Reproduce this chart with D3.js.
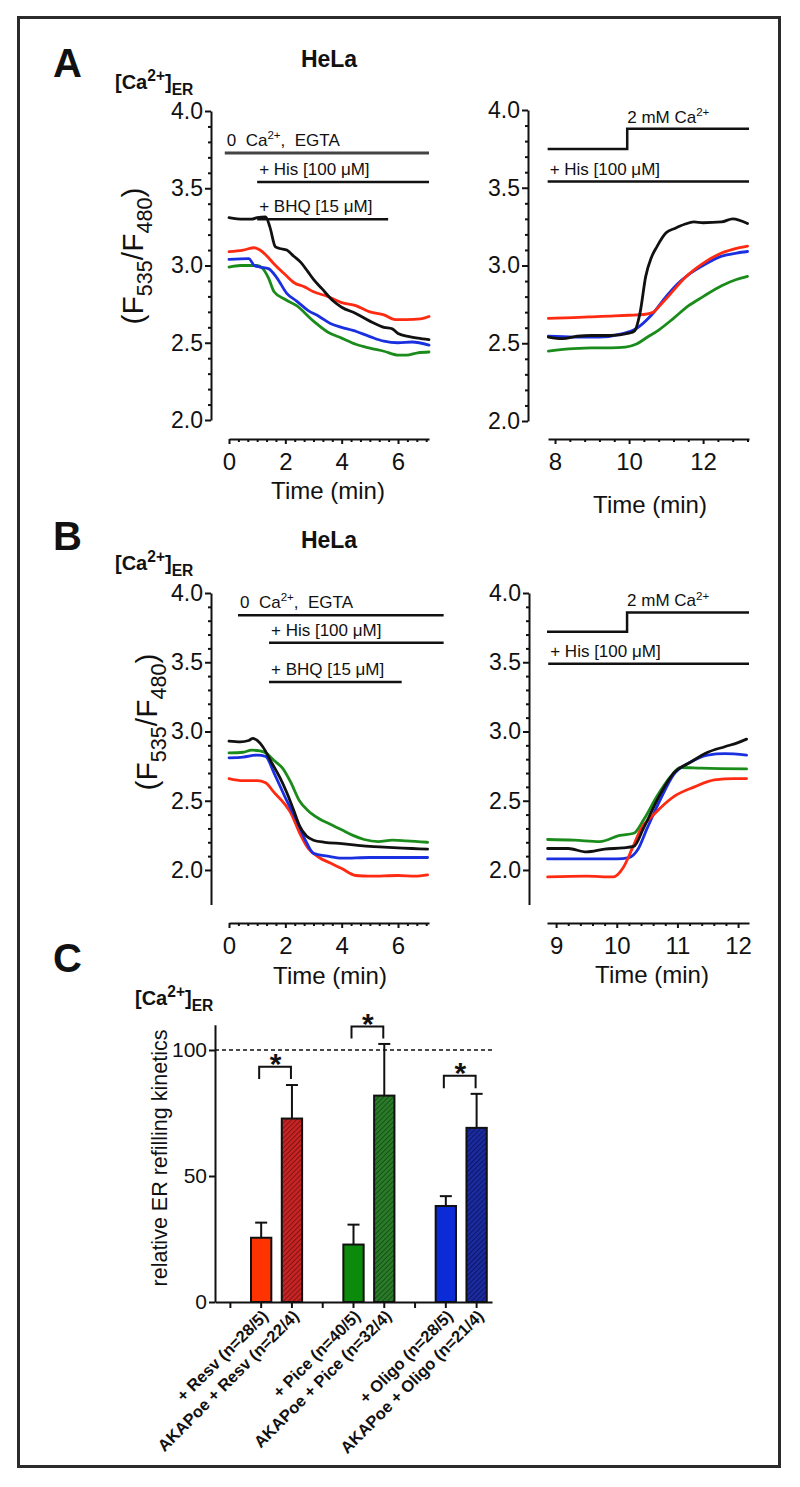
<!DOCTYPE html>
<html>
<head>
<meta charset="utf-8">
<script src="https://cdn.jsdelivr.net/npm/d3@7"></script>
<style>
  body { margin: 0; background: #fff; }
  svg { display: block; }
  text { font-family: "Liberation Sans", Arial, Helvetica, sans-serif; fill: #111; }
</style>
</head>
<body>
<svg width="800" height="1487"></svg>
<script>
// ---- data ----
// panel A, left: time (min), ratio
const aLeftBlack = [[0,3.31],[0.5,3.30],[0.8,3.30],[1.0,3.31],[1.3,3.315],[1.45,3.25],[1.65,3.12],[1.8,3.11],[2.05,3.10],[2.3,3.06],[2.55,3.02],[2.8,2.96],[3.0,2.91],[3.3,2.85],[3.7,2.77],[4.0,2.73],[4.5,2.69],[5.0,2.64],[5.5,2.60],[5.8,2.59],[6.0,2.56],[6.4,2.54],[6.7,2.53],[7.1,2.52]];
const aLeftRed = [[0,3.09],[0.5,3.10],[0.9,3.115],[1.1,3.10],[1.3,3.07],[1.6,3.01],[2.0,2.94],[2.3,2.89],[2.7,2.86],[3.0,2.83],[3.5,2.80],[4.0,2.76],[4.5,2.74],[5.0,2.70],[5.5,2.68],[5.9,2.65],[6.3,2.65],[6.8,2.655],[7.1,2.67]];
const aLeftBlue = [[0,3.04],[0.7,3.045],[0.9,3.0],[1.1,2.99],[1.4,2.98],[1.7,2.92],[2.05,2.82],[2.4,2.77],[2.8,2.71],[3.2,2.67],[3.6,2.625],[4.0,2.60],[4.4,2.58],[5.0,2.54],[5.5,2.51],[6.0,2.50],[6.5,2.505],[7.1,2.485]];
const aLeftGreen = [[0,2.99],[0.4,3.0],[1.0,3.0],[1.2,2.98],[1.4,2.92],[1.6,2.83],[2.0,2.78],[2.4,2.74],[3.0,2.64],[3.5,2.57],[4.0,2.53],[4.5,2.49],[5.0,2.465],[5.5,2.445],[6.0,2.42],[6.3,2.42],[6.7,2.435],[7.1,2.44]];

// panel A, right
const aRightBlack = [[7.82,2.54],[8.2,2.53],[8.6,2.545],[9.0,2.55],[9.5,2.55],[10.0,2.565],[10.15,2.58],[10.3,2.70],[10.45,2.93],[10.6,3.05],[10.75,3.12],[11.0,3.21],[11.25,3.24],[11.5,3.265],[11.75,3.28],[12.0,3.275],[12.5,3.28],[12.8,3.30],[13.2,3.27]];
const aRightRed = [[7.82,2.66],[8.5,2.665],[9.0,2.67],[9.5,2.675],[10.0,2.68],[10.4,2.685],[10.65,2.70],[10.9,2.76],[11.2,2.84],[11.5,2.92],[11.8,2.98],[12.1,3.03],[12.5,3.08],[12.9,3.11],[13.2,3.125]];
const aRightBlue = [[7.82,2.545],[8.5,2.54],[9.2,2.54],[9.8,2.56],[10.2,2.595],[10.6,2.68],[11.0,2.80],[11.3,2.88],[11.6,2.94],[12.0,3.0],[12.5,3.06],[12.9,3.08],[13.2,3.09]];
const aRightGreen = [[7.82,2.45],[8.5,2.465],[9.0,2.47],[9.5,2.47],[9.9,2.475],[10.2,2.495],[10.5,2.54],[10.8,2.585],[11.2,2.66],[11.6,2.74],[12.0,2.80],[12.5,2.87],[12.9,2.91],[13.2,2.93]];

// panel B, left
const bLeftBlack = [[0,2.93],[0.4,2.925],[0.7,2.935],[0.85,2.95],[1.0,2.935],[1.2,2.89],[1.5,2.78],[1.8,2.67],[2.05,2.56],[2.3,2.43],[2.5,2.32],[2.75,2.245],[3.0,2.215],[3.4,2.20],[4.0,2.19],[4.5,2.18],[5.0,2.17],[5.5,2.165],[6.0,2.16],[6.5,2.155],[7.05,2.15]];
const bLeftGreen = [[0,2.845],[0.5,2.85],[0.8,2.865],[1.1,2.86],[1.35,2.84],[1.6,2.79],[1.9,2.735],[2.2,2.63],[2.5,2.50],[2.8,2.43],[3.2,2.37],[3.6,2.33],[4.0,2.29],[4.4,2.25],[4.8,2.22],[5.3,2.205],[5.8,2.215],[6.3,2.21],[7.05,2.20]];
const bLeftBlue = [[0,2.81],[0.5,2.815],[1.0,2.83],[1.3,2.82],[1.6,2.70],[2.05,2.50],[2.4,2.36],[2.7,2.22],[3.0,2.12],[3.5,2.10],[4.0,2.085],[5.0,2.09],[6.0,2.09],[7.05,2.09]];
const bLeftRed = [[0,2.66],[0.5,2.645],[1.0,2.645],[1.3,2.63],[1.6,2.56],[2.0,2.47],[2.2,2.41],[2.5,2.27],[2.8,2.16],[3.2,2.09],[3.6,2.05],[4.0,2.01],[4.5,1.96],[5.0,1.955],[6.0,1.96],[6.6,1.955],[7.05,1.965]];

// panel B, right
const bRightBlack = [[8.86,2.155],[9.2,2.155],[9.5,2.13],[9.8,2.15],[10.1,2.16],[10.28,2.17],[10.44,2.30],[10.66,2.50],[10.94,2.70],[11.22,2.78],[11.5,2.85],[11.78,2.89],[12.0,2.92],[12.14,2.945]];
const bRightBlue = [[8.86,2.08],[9.5,2.08],[10.0,2.08],[10.2,2.09],[10.35,2.15],[10.5,2.30],[10.72,2.51],[10.94,2.69],[11.22,2.78],[11.5,2.83],[11.78,2.84],[12.14,2.83]];
const bRightGreen = [[8.86,2.22],[9.3,2.215],[9.72,2.205],[10.05,2.25],[10.28,2.265],[10.44,2.36],[10.66,2.53],[10.89,2.675],[11.05,2.74],[11.4,2.735],[12.14,2.73]];
const bRightRed = [[8.86,1.95],[9.5,1.955],[9.94,1.95],[10.11,2.02],[10.25,2.15],[10.39,2.29],[10.61,2.40],[10.94,2.53],[11.28,2.60],[11.61,2.65],[11.94,2.66],[12.14,2.66]];

// panel C
const barLabels = ["+ Resv (n=28/5)", "AKAPoe + Resv (n=22/4)", "+ Pice (n=40/5)", "AKAPoe + Pice (n=32/4)", "+ Oligo (n=28/5)", "AKAPoe + Oligo (n=21/4)"];
const barValues = [25.5, 72.8, 22.8, 81.9, 38.1, 69.1];
const barErrors = [6.0, 13.3, 7.9, 20.5, 3.9, 13.5];
const barSlots = ["gap1", barLabels[0], barLabels[1], "gap2", barLabels[2], barLabels[3], "gap3", barLabels[4], barLabels[5]];
const sigPairs = [[0, 1], [2, 3], [4, 5]];
const sigTop = [93.4, 109.3, 89.8];
const sigLeg = [88.5, 104.6, 84.8];

const yTicksMain = [2.0, 2.5, 3.0, 3.5, 4.0];
const col = { black: "#111111", red: "#ff2a12", blue: "#1a2fe0", green: "#1b8c1b" };

const svg = d3.select("svg");

// frame
svg.append("rect").attr("x", 18.5).attr("y", 17.5).attr("width", 761).attr("height", 1449)
  .attr("fill", "none").attr("stroke", "#2b2b2b").attr("stroke-width", 3);

// text with super/subscripts
function rich(sel, parts, size, ratio = 0.68) {
  let shift = 0;
  parts.forEach(([s, kind]) => {
    const target = kind === "sup" ? -0.4 * size : kind === "sub" ? 0.3 * size : 0;
    sel.append("tspan").attr("dy", target - shift).attr("font-size", kind ? size * ratio : size).text(s);
    shift = target;
  });
  return sel;
}

function styleAxis(g, fs) {
  g.selectAll("path, line").attr("stroke", "#111").attr("stroke-width", 2);
  g.selectAll("text").attr("font-size", fs).attr("fill", "#111")
    .style("font-family", '"Liberation Sans", Arial, sans-serif');
}

const line = d3.line().curve(d3.curveMonotoneX);

function tracePanel(c) {
  // y axis
  const ya = svg.append("g").attr("transform", `translate(${c.yAxisX},0)`)
    .call(d3.axisLeft(c.y).tickValues(yTicksMain).tickFormat(d3.format(".1f")).tickSize(6).tickSizeOuter(0).tickPadding(2));
  styleAxis(ya, 23);
  const yMinor = d3.range(20, 41).map(d => d / 10).filter(d => Math.round(d * 10) % 5 !== 0);
  const ym = svg.append("g").attr("transform", `translate(${c.yAxisX},0)`)
    .call(d3.axisLeft(c.y).tickValues(yMinor).tickFormat("").tickSize(3).tickSizeOuter(0));
  ym.select(".domain").remove();
  styleAxis(ym, 10);

  // x axis (detached from y axis)
  const xa = svg.append("g").attr("transform", `translate(0,${c.xAxisY})`)
    .call(d3.axisBottom(c.x).tickValues(c.xTicks).tickFormat(d3.format("d")).tickSize(5).tickSizeOuter(0).tickPadding(9));
  styleAxis(xa, 24);
  const dom = c.x.domain();
  const xMinor = d3.range(Math.ceil(dom[0] / c.minorStep - 1e-6), Math.floor(dom[1] / c.minorStep + 1e-6) + 1)
    .map(i => i * c.minorStep).filter(d => !c.xTicks.some(t => Math.abs(t - d) < 1e-6));
  const xm = svg.append("g").attr("transform", `translate(0,${c.xAxisY})`)
    .call(d3.axisBottom(c.x).tickValues(xMinor).tickFormat("").tickSize(3).tickSizeOuter(0));
  xm.select(".domain").remove();
  styleAxis(xm, 10);

  svg.append("text").attr("x", c.timeLabel[0]).attr("y", c.timeLabel[1]).attr("text-anchor", "middle")
    .attr("font-size", 24).text("Time (min)");

  // stimulation bars
  c.stims.forEach(s => {
    if (s.step !== undefined) {
      svg.append("path")
        .attr("d", d3.line()([[c.x(s.t0), c.y(s.v)], [c.x(s.step), c.y(s.v)], [c.x(s.step), c.y(s.v2)], [c.x(s.t1), c.y(s.v2)]]))
        .attr("fill", "none").attr("stroke", "#111").attr("stroke-width", 2.5);
      rich(svg.append("text").attr("x", c.x(s.step)).attr("y", c.y(s.v2) - 6).style("white-space", "pre"), s.label, 17);
    } else {
      svg.append("line").attr("x1", c.x(s.t0)).attr("x2", c.x(s.t1)).attr("y1", c.y(s.v)).attr("y2", c.y(s.v))
        .attr("stroke", s.color || "#111").attr("stroke-width", s.width || 2.5);
      rich(svg.append("text").attr("x", c.x(s.t0) + 2).attr("y", c.y(s.v) - 7).style("white-space", "pre"), s.label, 17);
    }
  });

  // traces
  c.series.forEach(s => {
    svg.append("path").datum(s.data)
      .attr("d", line.x(d => c.x(d[0])).y(d => c.y(d[1])))
      .attr("fill", "none").attr("stroke", s.color).attr("stroke-width", 2.8)
      .attr("stroke-linejoin", "round").attr("stroke-linecap", "round");
  });
}

const egta = [["0  Ca", null], ["2+", "sup"], [",  EGTA", null]];
const his = [["+ His [100 μM]", null]];
const bhq = [["+ BHQ [15 μM]", null]];
const caAdd = [["2 mM Ca", null], ["2+", "sup"]];

// ---- panel A ----
const yA = d3.scaleLinear().domain([2, 4]).range([420, 111]);
tracePanel({
  x: d3.scaleLinear().domain([0, 7.1]).range([229, 429]), y: yA, yAxisX: 211, xAxisY: 439,
  xTicks: [0, 2, 4, 6], minorStep: 1 / 3, timeLabel: [328, 499],
  stims: [
    { t0: -0.15, t1: 7.1, v: 3.728, label: egta, color: "#444", width: 3 },
    { t0: 1.0, t1: 7.1, v: 3.54, label: his },
    { t0: 1.0, t1: 5.65, v: 3.30, label: bhq }
  ],
  series: [
    { data: aLeftGreen, color: col.green }, { data: aLeftBlue, color: col.blue },
    { data: aLeftRed, color: col.red }, { data: aLeftBlack, color: col.black }
  ]
});
tracePanel({
  x: d3.scaleLinear().domain([7.81, 13.24]).range([548, 749]), y: d3.scaleLinear().domain([2, 4]).range([421, 110]),
  yAxisX: 528, xAxisY: 439, xTicks: [8, 10, 12], minorStep: 0.4, timeLabel: [650, 513],
  stims: [
    { t0: 7.8, step: 9.95, t1: 13.24, v: 3.75, v2: 3.88, label: caAdd },
    { t0: 7.8, t1: 13.24, v: 3.54, label: his }
  ],
  series: [
    { data: aRightGreen, color: col.green }, { data: aRightBlue, color: col.blue },
    { data: aRightRed, color: col.red }, { data: aRightBlack, color: col.black }
  ]
});

// ---- panel B ----
tracePanel({
  x: d3.scaleLinear().domain([0, 7.1]).range([229, 429]), y: d3.scaleLinear().domain([1.75, 4]).range([904.6, 593]),
  yAxisX: 211, xAxisY: 923, xTicks: [0, 2, 4, 6], minorStep: 1 / 3, timeLabel: [330, 984],
  stims: [
    { t0: 0.32, t1: 7.62, v: 3.84, label: egta },
    { t0: 1.42, t1: 7.62, v: 3.64, label: his },
    { t0: 1.42, t1: 6.13, v: 3.357, label: bhq }
  ],
  series: [
    { data: bLeftRed, color: col.red }, { data: bLeftBlue, color: col.blue },
    { data: bLeftGreen, color: col.green }, { data: bLeftBlack, color: col.black }
  ]
});
tracePanel({
  x: d3.scaleLinear().domain([8.85, 12.18]).range([547, 749]), y: d3.scaleLinear().domain([1.75, 4]).range([904.6, 593]),
  yAxisX: 529, xAxisY: 923, xTicks: [9, 10, 11, 12], minorStep: 0.2, timeLabel: [652, 983],
  stims: [
    { t0: 8.85, step: 10.17, t1: 12.18, v: 3.72, v2: 3.86, label: caAdd },
    { t0: 8.87, t1: 12.18, v: 3.49, label: his }
  ],
  series: [
    { data: bRightGreen, color: col.green }, { data: bRightBlue, color: col.blue },
    { data: bRightRed, color: col.red }, { data: bRightBlack, color: col.black }
  ]
});

// panel letters, titles and y labels
[["A", 77], ["B", 550], ["C", 972]].forEach(([t, y]) =>
  svg.append("text").attr("x", 53).attr("y", y).attr("font-size", 40).attr("font-weight", "bold").text(t));
[67, 548].forEach(y =>
  svg.append("text").attr("x", 329).attr("y", y).attr("text-anchor", "middle").attr("font-size", 23).attr("font-weight", "bold").text("HeLa"));
const caER = [["[Ca", null], ["2+", "sup"], ["]", null], ["ER", "sub"]];
[[115, 89], [115, 570], [135, 1005]].forEach(([x, y]) =>
  rich(svg.append("text").attr("x", x).attr("y", y).attr("font-weight", "bold"), caER, 20, 0.78));
const ratioLabel = [["(F", null], ["535", "sub"], ["/F", null], ["480", "sub"], [")", null]];
[[143, 256], [157, 722]].forEach(([x, y]) =>
  rich(svg.append("text").attr("transform", `translate(${x},${y}) rotate(-90)`).attr("text-anchor", "middle"), ratioLabel, 30, 0.72));

// ---- panel C ----
const xC = d3.scaleBand().domain(barSlots).range([215, 492]);
const yC = d3.scaleLinear().domain([0, 110]).range([1302, 1024.8]);
const barW = xC.bandwidth() * 0.66;
const cx = i => xC(barLabels[i]) + xC.bandwidth() / 2;

const defs = svg.append("defs");
const fills = [
  { base: "#ff3300" }, { base: "#c42424", hatch: "#6e0c0c" },
  { base: "#0c8a0c" }, { base: "#2a7a2a", hatch: "#0d420d" },
  { base: "#0b2bd6" }, { base: "#1b2a9c", hatch: "#070f55" }
];
fills.forEach((f, i) => {
  if (!f.hatch) return;
  const p = defs.append("pattern").attr("id", "hatch" + i).attr("patternUnits", "userSpaceOnUse")
    .attr("width", 3.5).attr("height", 3.5).attr("patternTransform", "rotate(45)");
  p.append("rect").attr("width", 3.5).attr("height", 3.5).attr("fill", f.base);
  p.append("line").attr("x1", 0).attr("y1", 0).attr("x2", 0).attr("y2", 3.5).attr("stroke", f.hatch).attr("stroke-width", 1.4);
});

// dashed reference line at 100
svg.append("line").attr("x1", 215).attr("x2", 492).attr("y1", yC(100)).attr("y2", yC(100))
  .attr("stroke", "#111").attr("stroke-width", 1.5).attr("stroke-dasharray", "4,3");

// error bars (upper only)
barLabels.forEach((d, i) => {
  const g = svg.append("g").attr("stroke", "#111").attr("stroke-width", 2);
  g.append("line").attr("x1", cx(i)).attr("x2", cx(i)).attr("y1", yC(barValues[i])).attr("y2", yC(barValues[i] + barErrors[i]));
  g.append("line").attr("x1", cx(i) - 6).attr("x2", cx(i) + 6).attr("y1", yC(barValues[i] + barErrors[i])).attr("y2", yC(barValues[i] + barErrors[i]));
});

svg.selectAll("rect.bar").data(barLabels).enter().append("rect").attr("class", "bar")
  .attr("x", d => xC(d) + (xC.bandwidth() - barW) / 2)
  .attr("y", (d, i) => yC(barValues[i]))
  .attr("width", barW)
  .attr("height", (d, i) => yC(0) - yC(barValues[i]))
  .attr("fill", (d, i) => fills[i].hatch ? `url(#hatch${i})` : fills[i].base)
  .attr("stroke", "#111").attr("stroke-width", 2);

// axes
const yaC = svg.append("g").attr("transform", "translate(215,0)")
  .call(d3.axisLeft(yC).tickValues([0, 50, 100]).tickSize(6).tickSizeOuter(0).tickPadding(2));
styleAxis(yaC, 21);
const xaC = svg.append("g").attr("transform", `translate(0,${yC(0)})`)
  .call(d3.axisBottom(xC).tickSize(6).tickSizeOuter(0).tickFormat(d => d.startsWith("gap") ? "" : d));
styleAxis(xaC, 16.5);
xaC.selectAll("text").attr("x", 0).attr("y", 0).attr("dy", 0)
  .attr("transform", "translate(8,15) rotate(-45)").attr("text-anchor", "end").attr("font-weight", "bold");

svg.append("text").attr("transform", "translate(167,1158) rotate(-90)").attr("text-anchor", "middle")
  .attr("font-size", 21.5).text("relative ER refilling kinetics");

// significance brackets
sigPairs.forEach(([a, b], k) => {
  svg.append("path")
    .attr("d", d3.line()([[cx(a) - 2, yC(sigLeg[k])], [cx(a) - 2, yC(sigTop[k])], [cx(b) - 1, yC(sigTop[k])], [cx(b) - 1, yC(sigLeg[k])]]))
    .attr("fill", "none").attr("stroke", "#111").attr("stroke-width", 2);
  svg.append("text").attr("x", (cx(a) + cx(b)) / 2 - 1).attr("y", yC(sigTop[k]) + 7)
    .attr("text-anchor", "middle").attr("font-size", 30).attr("font-weight", "bold").text("*");
});
</script>
</body>
</html>
